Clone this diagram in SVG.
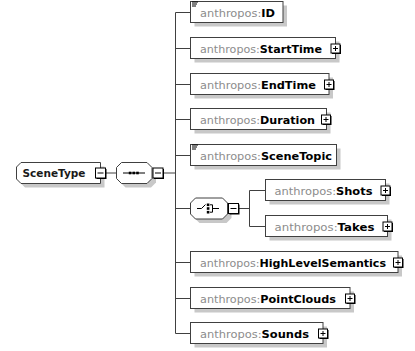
<svg xmlns="http://www.w3.org/2000/svg" xmlns:xlink="http://www.w3.org/1999/xlink" width="415" height="351" viewBox="0 0 415 351">
<style>
.box{fill:#fff;stroke:#404040;stroke-width:1}
.shd{fill:#c8c8c8}
text{font-family:"DejaVu Sans",Verdana,sans-serif;font-size:11px}
.pfx{fill:#8c8c8c}
.nm{fill:#000;font-weight:bold}
.ln{stroke:#404040;stroke-width:1;fill:none}
.ic{stroke:#000;stroke-width:1;fill:none}
</style>
<defs>
<g id="plus"><rect x="-3.5" y="-3.5" width="9" height="9" fill="#000"/><rect x="-4.5" y="-4.5" width="9" height="9" fill="#fff" stroke="#000"/><path d="M-2.5,0H2.5M0,-2.5V2.5" stroke="#000" fill="none"/></g>
<g id="minus"><rect x="-4" y="-4" width="10" height="10" fill="#000"/><rect x="-5" y="-5" width="10" height="10" fill="#fff" stroke="#000"/><path d="M-3,0H3" stroke="#000" fill="none"/></g>
<g id="doc"><path d="M192,2H198M192,4H197M192,6H196" stroke="#000" stroke-width="1" fill="none"/></g>
</defs>
<g id="connectors">
<path class="ln" d="M104.5,173H116.5"/>
<path class="ln" d="M163,173H175.5"/>
<path class="ln" d="M175.5,12.5V333.5"/>
<path class="ln" d="M175.5,12.5H190.5M175.5,48.5H190.5M175.5,84.5H190.5M175.5,119.5H190.5M175.5,155.5H190.5M175.5,208.5H190.5M175.5,262.5H190.5M175.5,298.5H190.5M175.5,333.5H190.5"/>
<path class="ln" d="M238.5,208.5H249.5M249.5,190.5V226.5M249.5,190.5H265.5M249.5,226.5H265.5"/>
</g>
<g id="SceneType">
<path class="shd" d="M25,166.5H104.5V187.5H25L20.5,183V171Z"/>
<path class="box" d="M21,162.5H100.5V183.5H21L16.5,179V167Z"/>
<text x="22.5" y="177" textLength="63" lengthAdjust="spacingAndGlyphs" fill="#1a1a1a" font-weight="bold">SceneType</text>
<use xlink:href="#minus" x="100.5" y="173"/>
</g>
<g id="sequence">
<polygon class="shd" points="125.5,166.5 151,166.5 156,171.5 156,182.5 151,187.5 125.5,187.5 120.5,182.5 120.5,171.5"/>
<polygon class="box" points="121.5,162.5 147,162.5 152,167.5 152,178.5 147,183.5 121.5,183.5 116.5,178.5 116.5,167.5"/>
<path class="ic" d="M123,173H145"/>
<rect x="128.8" y="171.7" width="2.6" height="2.6" fill="#000"/>
<rect x="132.5" y="171.7" width="2.6" height="2.6" fill="#000"/>
<rect x="136.2" y="171.7" width="2.6" height="2.6" fill="#000"/>
<use xlink:href="#minus" x="158" y="173"/>
</g>
<g id="ID">
<rect class="shd" x="194.5" y="5.5" width="92.5" height="21"/>
<rect class="box" x="190.5" y="1.5" width="92.5" height="21"/>
<use xlink:href="#doc"/>
<text x="200" y="16.5" textLength="75" lengthAdjust="spacingAndGlyphs"><tspan class="pfx">anthropos:</tspan><tspan class="nm">ID</tspan></text>
</g>
<g id="StartTime">
<rect class="shd" x="194.5" y="41.5" width="145" height="21"/>
<rect class="box" x="190.5" y="37.5" width="145" height="21"/>
<text x="200" y="52.5" textLength="122" lengthAdjust="spacingAndGlyphs"><tspan class="pfx">anthropos:</tspan><tspan class="nm">StartTime</tspan></text>
<use xlink:href="#plus" x="335.5" y="48.5"/>
</g>
<g id="EndTime">
<rect class="shd" x="194.5" y="77.5" width="138.5" height="21"/>
<rect class="box" x="190.5" y="73.5" width="138.5" height="21"/>
<text x="200" y="88.5" textLength="116" lengthAdjust="spacingAndGlyphs"><tspan class="pfx">anthropos:</tspan><tspan class="nm">EndTime</tspan></text>
<use xlink:href="#plus" x="329" y="84.5"/>
</g>
<g id="Duration">
<rect class="shd" x="194.5" y="112.5" width="136" height="21"/>
<rect class="box" x="190.5" y="108.5" width="136" height="21"/>
<text x="200" y="123.5" textLength="115" lengthAdjust="spacingAndGlyphs"><tspan class="pfx">anthropos:</tspan><tspan class="nm">Duration</tspan></text>
<use xlink:href="#plus" x="326" y="119.5"/>
</g>
<g id="SceneTopic">
<rect class="shd" x="194.5" y="148.5" width="146" height="21"/>
<rect class="box" x="190.5" y="144.5" width="146" height="21"/>
<use xlink:href="#doc" y="143"/>
<text x="200" y="159.5" textLength="132" lengthAdjust="spacingAndGlyphs"><tspan class="pfx">anthropos:</tspan><tspan class="nm">SceneTopic</tspan></text>
</g>
<g id="choice">
<polygon class="shd" points="199.5,202 226.5,202 231.5,207 231.5,218 226.5,223 199.5,223 194.5,218 194.5,207"/>
<polygon class="box" points="195.5,198 222.5,198 227.5,203 227.5,214 222.5,219 195.5,219 190.5,214 190.5,203"/>
<path class="ic" d="M197,208.5H201.5L205.5,204.5"/>
<rect x="206.8" y="203.5" width="2.6" height="2.6" fill="#000"/>
<rect x="206.8" y="207.2" width="2.6" height="2.6" fill="#000"/>
<rect x="206.8" y="210.9" width="2.6" height="2.6" fill="#000"/>
<path class="ic" d="M210,204.8H212.5V212.2H210M212.5,208.5H219"/>
<use xlink:href="#minus" x="233.5" y="208.5"/>
</g>
<g id="Shots">
<rect class="shd" x="269.5" y="183.5" width="120" height="21"/>
<rect class="box" x="265.5" y="179.5" width="120" height="21"/>
<text x="274.5" y="194.5" textLength="98" lengthAdjust="spacingAndGlyphs"><tspan class="pfx">anthropos:</tspan><tspan class="nm">Shots</tspan></text>
<use xlink:href="#plus" x="385.5" y="190.5"/>
</g>
<g id="Takes">
<rect class="shd" x="269.5" y="219.5" width="122" height="21"/>
<rect class="box" x="265.5" y="215.5" width="122" height="21"/>
<text x="274.5" y="230.5" textLength="100" lengthAdjust="spacingAndGlyphs"><tspan class="pfx">anthropos:</tspan><tspan class="nm">Takes</tspan></text>
<use xlink:href="#plus" x="387.5" y="226.5"/>
</g>
<g id="HighLevelSemantics">
<rect class="shd" x="194.5" y="255.5" width="207.5" height="21"/>
<rect class="box" x="190.5" y="251.5" width="207.5" height="21"/>
<text x="200" y="266.5" textLength="186" lengthAdjust="spacingAndGlyphs"><tspan class="pfx">anthropos:</tspan><tspan class="nm">HighLevelSemantics</tspan></text>
<use xlink:href="#plus" x="398" y="262.5"/>
</g>
<g id="PointClouds">
<rect class="shd" x="194.5" y="291.5" width="159.5" height="21"/>
<rect class="box" x="190.5" y="287.5" width="159.5" height="21"/>
<text x="200" y="302.5" textLength="136" lengthAdjust="spacingAndGlyphs"><tspan class="pfx">anthropos:</tspan><tspan class="nm">PointClouds</tspan></text>
<use xlink:href="#plus" x="350" y="298.5"/>
</g>
<g id="Sounds">
<rect class="shd" x="194.5" y="326.5" width="132.5" height="21"/>
<rect class="box" x="190.5" y="322.5" width="132.5" height="21"/>
<text x="200" y="337.5" textLength="109" lengthAdjust="spacingAndGlyphs"><tspan class="pfx">anthropos:</tspan><tspan class="nm">Sounds</tspan></text>
<use xlink:href="#plus" x="323" y="333.5"/>
</g>
</svg>
